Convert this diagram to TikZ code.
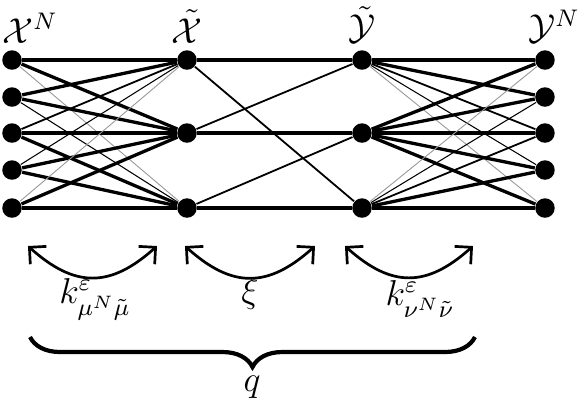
\documentclass[tikz,border=0pt]{standalone}
\usepackage{amsmath,amssymb}
\usetikzlibrary{arrows.meta,positioning,decorations.pathreplacing}
\tikzset{
  dot/.style={circle, fill=black, inner sep=0pt, minimum size=6.5pt},
  edgeheavy/.style={line width=1.1pt},
  edgemid/.style={line width=0.6pt},
  edgethin/.style={line width=0.35pt},
  edgefaint/.style={line width=0.3pt, black!40},
  swaparc/.style={{Straight Barb[length=4pt,width=8pt]}-{Straight Barb[length=4pt,width=8pt]}, line width=0.9pt},
  setlabel/.style={font=\large, inner sep=1pt},
}
\begin{document}
\begin{tikzpicture}[x=0.3333pt, y=-0.3333pt]
  \useasboundingbox (0,0) rectangle (578,402);
  % the four columns
  \foreach \k/\yy in {1/60,2/97,3/133,4/170,5/208} {
    \node[dot] (l\k) at (12,\yy) {};
    \node[dot] (r\k) at (545,\yy) {};
  }
  \foreach \k/\yy in {1/60,2/133,3/208} {
    \node[dot] (a\k) at (187,\yy) {};
    \node[dot] (b\k) at (362,\yy) {};
  }
  \node[setlabel, above=1pt of l1, xshift=6pt] (tXN) {$\mathcal{X}^N$};
  \node[setlabel, above=1pt of a1] (tXt) {$\tilde{\mathcal{X}}$};
  \node[setlabel, above=1pt of b1] (tYt) {$\tilde{\mathcal{Y}}$};
  \node[setlabel, above=1pt of r1, xshift=3pt] (tYN) {$\mathcal{Y}^N$};

  % left couplings
  \foreach \i/\j/\w in {1/1/edgeheavy,1/2/edgeheavy,1/3/edgefaint,
                        2/1/edgeheavy,2/2/edgeheavy,2/3/edgethin,
                        3/1/edgemid,3/2/edgeheavy,3/3/edgeheavy,
                        4/1/edgethin,4/2/edgeheavy,4/3/edgeheavy,
                        5/1/edgefaint,5/2/edgeheavy,5/3/edgeheavy}
    \draw[\w] (l\i) -- (a\j);
  % middle map
  \foreach \i/\j/\w in {1/1/edgeheavy,1/3/edgemid,2/1/edgemid,
                        2/2/edgeheavy,3/2/edgemid,3/3/edgeheavy}
    \draw[\w] (a\i) -- (b\j);
  % right couplings
  \foreach \i/\j/\w in {1/1/edgeheavy,1/2/edgeheavy,1/3/edgemid,1/4/edgethin,1/5/edgefaint,
                        2/1/edgeheavy,2/2/edgeheavy,2/3/edgeheavy,2/4/edgeheavy,2/5/edgeheavy,
                        3/1/edgefaint,3/2/edgethin,3/3/edgemid,3/4/edgeheavy,3/5/edgeheavy}
    \draw[\w] (b\i) -- (r\j);

  % transports
  \coordinate (p1) at (28,246);
  \coordinate (p2) at (157,246);
  \coordinate (p3) at (185,246);
  \coordinate (p4) at (315,246);
  \coordinate (p5) at (345,246);
  \coordinate (p6) at (473,246);
  \draw[swaparc] (p1) to[out=-42, in=-138, looseness=1.25] (p2);
  \draw[swaparc] (p3) to[out=-42, in=-138, looseness=1.25] (p4);
  \draw[swaparc] (p5) to[out=-42, in=-138, looseness=1.25] (p6);
  \node[setlabel] (k1) at (95,299) {$k^{\varepsilon}_{\mu^N\tilde{\mu}}$};
  \node[setlabel] (xi) at (250,293) {$\xi$};
  \node[setlabel] (k2) at (420,299) {$k^{\varepsilon}_{\nu^N\tilde{\nu}}$};

  % composition
  \coordinate (q1) at (30,337);
  \coordinate (q2) at (475,337);
  \draw[decorate, decoration={brace, mirror, amplitude=10pt}, line width=1.4pt] (q1) -- (q2);
  \node[setlabel] (q) at (252,387) {$q$};
\end{tikzpicture}
\end{document}
